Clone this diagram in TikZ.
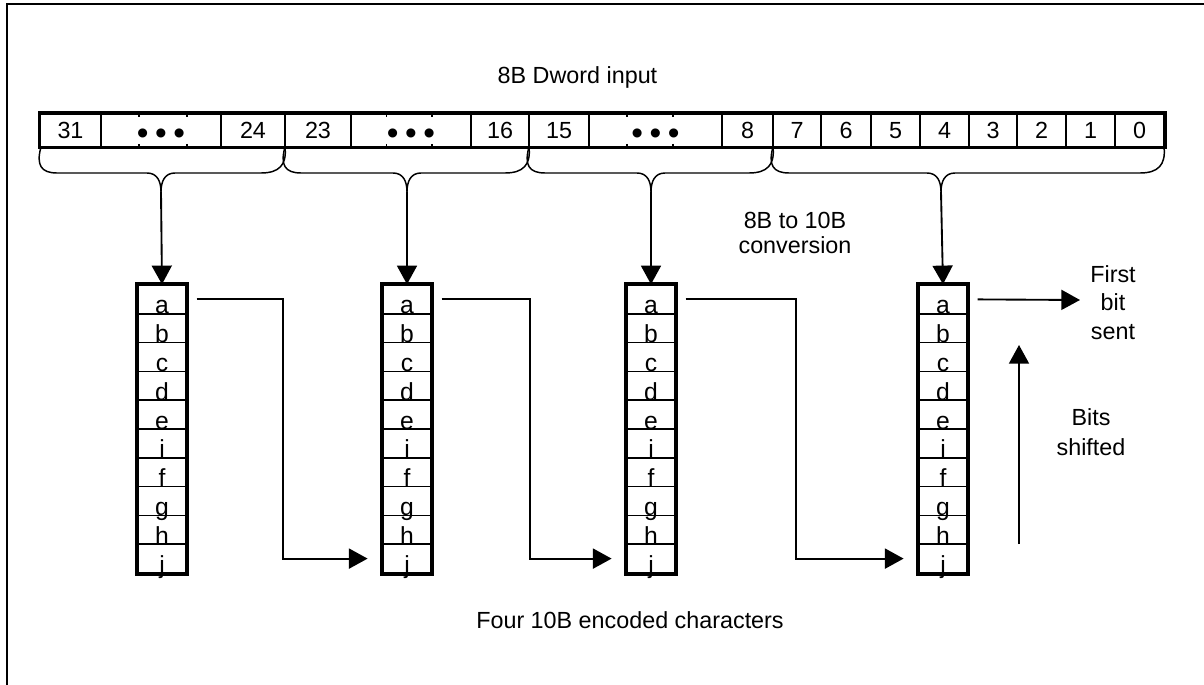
\documentclass[tikz,border=0pt]{standalone}
\usepackage{fontspec}
\setmainfont{Liberation Sans}
\usetikzlibrary{arrows.meta, positioning}
\newcommand{\skipdots}{\raisebox{-4pt}{\fontsize{25}{25}\selectfont
  •\hspace{5pt}•\hspace{5pt}•}}

\begin{document}
\begin{tikzpicture}[x=0.75pt, y=-0.75pt,
   bitcell/.style={rectangle, draw, line width=1.5pt, minimum height=24.75pt,
                   inner sep=0pt, text height=12.5pt, text depth=0pt,
                   font=\fontsize{17.5}{20}\selectfont},
   charcell/.style={rectangle, draw, line width=1.1pt, minimum width=36pt,
                    minimum height=21.6pt, inner sep=0pt, text height=21.6pt,
                    text depth=0pt, font=\fontsize{18.5}{20}\selectfont},
   brc/.style={line width=1.1pt},
   arr/.style={-{Triangle[length=14pt, width=15pt]}, line width=1.4pt},
   lbl/.style={font=\fontsize{17.5}{21.5}\selectfont, align=center, inner sep=0pt}]
\useasboundingbox (0,0) rectangle (1204,685);
\draw[line width=1.5pt] (1204,4) -- (6.5,4) -- (6.5,685);

% dword input
\node[lbl, anchor=base] (title) at (577.5,84) {8B Dword input};
\foreach \lft/\rgt/\lab [count=\i] in {40/101/31, 101/221/\skipdots, 221/285/24,
    285/351/23, 351/471/\skipdots, 471/529/16, 529/589/15, 589/722/\skipdots,
    722/773/8, 773/821/7, 821/871/6, 871/920/5, 920/969/4, 969/1017/3,
    1017/1066/2, 1066/1115/1, 1115/1164/0}
  \node[bitcell, minimum width={(\rgt-\lft)*0.75pt}] (bit\i)
       at ({(\lft+\rgt)/2},130.5) {\lab};
\draw[line width=2.25pt] (bit1.north west) rectangle (bit17.south east);
\foreach \x in {139,187,386.5,432,627,673}
  \draw[line width=0.8pt] (\x,114) -- (\x,117) (\x,144) -- (\x,147);

% braces
\foreach \lft/\tp/\rgt [count=\i] in {41/161/285, 285/407/529, 529/651/773,
    773/941/1164} {
  \draw[brc] (\lft,147) .. controls (\lft-5,165) and (\lft,173) .. (\lft+16,173)
     -- (\tp-14,173) .. controls (\tp-4,173) and (\tp,181) .. (\tp,192)
     .. controls (\tp,181) and (\tp+4,173) .. (\tp+14,173)
     -- (\rgt-24,173) .. controls (\rgt-6,173) and (\rgt+2,165) .. (\rgt,147);
  \coordinate (tip\i) at (\tp,192);
}

% 10B characters
\foreach \cx [count=\k] in {162,407,651,943} {
  \foreach \c [count=\j] in {a,b,c,d,e,i,f,g,h,j}
    \node[charcell] (box\k-\j) at (\cx,{285+(\j-0.5)*28.8}) {\c};
  \draw[line width=3pt] (box\k-1.north west) rectangle (box\k-10.south east);
  \draw[arr] (tip\k) -- (box\k-1.north);
}
\foreach \k/\n/\v in {1/2/283, 2/3/530, 3/4/796}
  \draw[arr] ([xshift=7.5pt]box\k-1.east) -| (\v,420)
             |- ([xshift=-11pt]box\n-10.west);

\coordinate (sent) at (1080,300);
\draw[arr] ([xshift=7.5pt]box4-1.east) -- (sent);
\coordinate (shiftlo) at (1019,544);
\coordinate (shifthi) at (1019,345);
\draw[arr] (shiftlo) -- (shifthi);

\node[lbl, font=\fontsize{17.5}{18.75}\selectfont] (conv) at (795,232.5)
     {8B to 10B\\conversion};
\node[lbl] (sentlbl) at (1113,302.5) {First\\bit\\sent};
\node[lbl, font=\fontsize{17.5}{22.5}\selectfont] (shiftlbl) at (1091,432)
     {Bits\\shifted};
\node[lbl, anchor=base] (foot) at (630,628) {Four 10B encoded characters};
\end{tikzpicture}
\end{document}
